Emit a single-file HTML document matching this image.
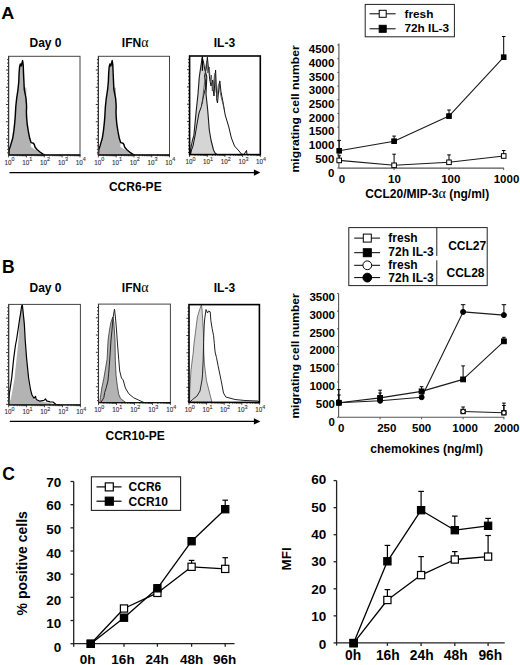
<!DOCTYPE html>
<html><head><meta charset="utf-8"><style>
html,body{margin:0;padding:0;background:#fff;}
svg{display:block;}
text{font-family:"Liberation Sans",sans-serif;}
</style></head><body>
<svg width="520" height="665" viewBox="0 0 520 665" font-family="Liberation Sans, sans-serif">
<rect width="520" height="665" fill="#fff"/>
<text x="0.00" y="0.00" font-size="16.4" font-weight="bold" text-anchor="start" fill="#000"  transform="translate(1.3,18.9) scale(1.1,1)">A</text>
<text x="2.00" y="272.60" font-size="17.5" font-weight="bold" text-anchor="start" fill="#000"  >B</text>
<text x="2.20" y="479.80" font-size="17.5" font-weight="bold" text-anchor="start" fill="#000"  >C</text>
<text x="45.50" y="46.60" font-size="12" font-weight="bold" text-anchor="middle" fill="#000"  >Day 0</text>
<text x="135.20" y="46.60" font-size="12" font-weight="bold" text-anchor="middle" fill="#000"  >IFN<tspan font-family="Liberation Serif" font-weight="normal" font-size="14" stroke-width="0.2">&#945;</tspan></text>
<text x="224.40" y="46.60" font-size="12" font-weight="bold" text-anchor="middle" fill="#000"  >IL-3</text>
<polygon points="8.80,155.00 9.60,149.60 11.00,145.40 13.00,138.30 14.10,131.20 14.90,124.20 15.50,117.10 15.90,110.00 16.10,106.50 17.00,98.10 18.30,89.70 19.10,81.30 19.40,72.80 20.30,64.00 21.20,66.00 22.60,61.00 23.00,72.80 23.60,81.30 24.20,87.00 26.40,88.00 26.40,94.00 25.80,98.10 26.50,106.50 26.30,117.10 27.00,124.20 28.00,131.20 29.50,138.30 30.80,142.60 30.80,146.80 34.00,149.00 38.70,151.00 44.40,155.00" fill="#b3b3b3" stroke="none" stroke-width="1" stroke-linejoin="round" />
<polyline points="8.80,155.00 9.20,149.60 10.60,145.40 12.70,138.30 13.80,131.20 14.60,124.20 15.20,117.10 15.60,110.00 15.80,106.50 16.70,98.10 18.00,89.70 18.80,81.30 19.10,72.80 19.60,67.00 20.30,64.00 21.20,66.00 22.60,60.60 23.20,65.00 23.50,72.80 23.90,81.30 24.30,89.70 26.00,98.10 26.60,106.50 26.40,112.00 26.60,117.10 27.20,124.20 28.30,131.20 29.70,138.30 31.10,142.60 33.50,143.30 34.30,144.50 35.00,147.00 37.00,149.50 40.00,152.00 43.00,154.20 45.00,155.00" fill="none" stroke="#000" stroke-width="1.45" stroke-linejoin="round" />
<line x1="7.10" y1="59.65" x2="8.60" y2="59.65" stroke="#222" stroke-width="0.9" />
<line x1="7.10" y1="63.10" x2="8.60" y2="63.10" stroke="#222" stroke-width="0.9" />
<line x1="7.10" y1="66.55" x2="8.60" y2="66.55" stroke="#222" stroke-width="0.9" />
<line x1="6.00" y1="70.00" x2="8.60" y2="70.00" stroke="#222" stroke-width="0.9" />
<line x1="7.10" y1="73.45" x2="8.60" y2="73.45" stroke="#222" stroke-width="0.9" />
<line x1="7.10" y1="76.90" x2="8.60" y2="76.90" stroke="#222" stroke-width="0.9" />
<line x1="7.10" y1="80.35" x2="8.60" y2="80.35" stroke="#222" stroke-width="0.9" />
<line x1="7.10" y1="83.80" x2="8.60" y2="83.80" stroke="#222" stroke-width="0.9" />
<line x1="6.00" y1="87.25" x2="8.60" y2="87.25" stroke="#222" stroke-width="0.9" />
<line x1="7.10" y1="90.70" x2="8.60" y2="90.70" stroke="#222" stroke-width="0.9" />
<line x1="7.10" y1="94.15" x2="8.60" y2="94.15" stroke="#222" stroke-width="0.9" />
<line x1="7.10" y1="97.60" x2="8.60" y2="97.60" stroke="#222" stroke-width="0.9" />
<line x1="7.10" y1="101.05" x2="8.60" y2="101.05" stroke="#222" stroke-width="0.9" />
<line x1="6.00" y1="104.50" x2="8.60" y2="104.50" stroke="#222" stroke-width="0.9" />
<line x1="7.10" y1="107.95" x2="8.60" y2="107.95" stroke="#222" stroke-width="0.9" />
<line x1="7.10" y1="111.40" x2="8.60" y2="111.40" stroke="#222" stroke-width="0.9" />
<line x1="7.10" y1="114.85" x2="8.60" y2="114.85" stroke="#222" stroke-width="0.9" />
<line x1="7.10" y1="118.30" x2="8.60" y2="118.30" stroke="#222" stroke-width="0.9" />
<line x1="6.00" y1="121.75" x2="8.60" y2="121.75" stroke="#222" stroke-width="0.9" />
<line x1="7.10" y1="125.20" x2="8.60" y2="125.20" stroke="#222" stroke-width="0.9" />
<line x1="7.10" y1="128.65" x2="8.60" y2="128.65" stroke="#222" stroke-width="0.9" />
<line x1="7.10" y1="132.10" x2="8.60" y2="132.10" stroke="#222" stroke-width="0.9" />
<line x1="7.10" y1="135.55" x2="8.60" y2="135.55" stroke="#222" stroke-width="0.9" />
<line x1="6.00" y1="139.00" x2="8.60" y2="139.00" stroke="#222" stroke-width="0.9" />
<line x1="7.10" y1="142.45" x2="8.60" y2="142.45" stroke="#222" stroke-width="0.9" />
<line x1="7.10" y1="145.90" x2="8.60" y2="145.90" stroke="#222" stroke-width="0.9" />
<line x1="7.10" y1="149.35" x2="8.60" y2="149.35" stroke="#222" stroke-width="0.9" />
<line x1="7.10" y1="152.80" x2="8.60" y2="152.80" stroke="#222" stroke-width="0.9" />
<line x1="8.60" y1="155.00" x2="8.60" y2="157.40" stroke="#222" stroke-width="0.8" />
<line x1="13.97" y1="155.00" x2="13.97" y2="156.30" stroke="#222" stroke-width="0.8" />
<line x1="17.12" y1="155.00" x2="17.12" y2="156.30" stroke="#222" stroke-width="0.8" />
<line x1="19.35" y1="155.00" x2="19.35" y2="156.30" stroke="#222" stroke-width="0.8" />
<line x1="21.08" y1="155.00" x2="21.08" y2="156.30" stroke="#222" stroke-width="0.8" />
<line x1="22.49" y1="155.00" x2="22.49" y2="156.30" stroke="#222" stroke-width="0.8" />
<line x1="23.69" y1="155.00" x2="23.69" y2="156.30" stroke="#222" stroke-width="0.8" />
<line x1="24.72" y1="155.00" x2="24.72" y2="156.30" stroke="#222" stroke-width="0.8" />
<line x1="25.63" y1="155.00" x2="25.63" y2="156.30" stroke="#222" stroke-width="0.8" />
<line x1="26.45" y1="155.00" x2="26.45" y2="157.40" stroke="#222" stroke-width="0.8" />
<line x1="31.82" y1="155.00" x2="31.82" y2="156.30" stroke="#222" stroke-width="0.8" />
<line x1="34.97" y1="155.00" x2="34.97" y2="156.30" stroke="#222" stroke-width="0.8" />
<line x1="37.20" y1="155.00" x2="37.20" y2="156.30" stroke="#222" stroke-width="0.8" />
<line x1="38.93" y1="155.00" x2="38.93" y2="156.30" stroke="#222" stroke-width="0.8" />
<line x1="40.34" y1="155.00" x2="40.34" y2="156.30" stroke="#222" stroke-width="0.8" />
<line x1="41.54" y1="155.00" x2="41.54" y2="156.30" stroke="#222" stroke-width="0.8" />
<line x1="42.57" y1="155.00" x2="42.57" y2="156.30" stroke="#222" stroke-width="0.8" />
<line x1="43.48" y1="155.00" x2="43.48" y2="156.30" stroke="#222" stroke-width="0.8" />
<line x1="44.30" y1="155.00" x2="44.30" y2="157.40" stroke="#222" stroke-width="0.8" />
<line x1="49.67" y1="155.00" x2="49.67" y2="156.30" stroke="#222" stroke-width="0.8" />
<line x1="52.82" y1="155.00" x2="52.82" y2="156.30" stroke="#222" stroke-width="0.8" />
<line x1="55.05" y1="155.00" x2="55.05" y2="156.30" stroke="#222" stroke-width="0.8" />
<line x1="56.78" y1="155.00" x2="56.78" y2="156.30" stroke="#222" stroke-width="0.8" />
<line x1="58.19" y1="155.00" x2="58.19" y2="156.30" stroke="#222" stroke-width="0.8" />
<line x1="59.39" y1="155.00" x2="59.39" y2="156.30" stroke="#222" stroke-width="0.8" />
<line x1="60.42" y1="155.00" x2="60.42" y2="156.30" stroke="#222" stroke-width="0.8" />
<line x1="61.33" y1="155.00" x2="61.33" y2="156.30" stroke="#222" stroke-width="0.8" />
<line x1="62.15" y1="155.00" x2="62.15" y2="157.40" stroke="#222" stroke-width="0.8" />
<line x1="67.52" y1="155.00" x2="67.52" y2="156.30" stroke="#222" stroke-width="0.8" />
<line x1="70.67" y1="155.00" x2="70.67" y2="156.30" stroke="#222" stroke-width="0.8" />
<line x1="72.90" y1="155.00" x2="72.90" y2="156.30" stroke="#222" stroke-width="0.8" />
<line x1="74.63" y1="155.00" x2="74.63" y2="156.30" stroke="#222" stroke-width="0.8" />
<line x1="76.04" y1="155.00" x2="76.04" y2="156.30" stroke="#222" stroke-width="0.8" />
<line x1="77.24" y1="155.00" x2="77.24" y2="156.30" stroke="#222" stroke-width="0.8" />
<line x1="78.27" y1="155.00" x2="78.27" y2="156.30" stroke="#222" stroke-width="0.8" />
<line x1="79.18" y1="155.00" x2="79.18" y2="156.30" stroke="#222" stroke-width="0.8" />
<line x1="80.00" y1="155.00" x2="80.00" y2="157.40" stroke="#222" stroke-width="0.8" />
<rect x="8.60" y="56.30" width="71.40" height="98.70" fill="none" stroke="#444" stroke-width="1.0"/>
<line x1="8.50" y1="155.00" x2="80.40" y2="155.00" stroke="#111" stroke-width="1.4" />
<line x1="8.60" y1="56.30" x2="8.60" y2="155.00" stroke="#333" stroke-width="1.1" />
<text x="4.40" y="164.50" font-size="6.3" fill="#333" stroke="#333" stroke-width="0.12">10<tspan dy="-3.1" font-size="5.4">0</tspan></text>
<text x="22.25" y="164.50" font-size="6.3" fill="#333" stroke="#333" stroke-width="0.12">10<tspan dy="-3.1" font-size="5.4">1</tspan></text>
<text x="40.10" y="164.50" font-size="6.3" fill="#333" stroke="#333" stroke-width="0.12">10<tspan dy="-3.1" font-size="5.4">2</tspan></text>
<text x="57.95" y="164.50" font-size="6.3" fill="#333" stroke="#333" stroke-width="0.12">10<tspan dy="-3.1" font-size="5.4">3</tspan></text>
<text x="75.80" y="164.50" font-size="6.3" fill="#333" stroke="#333" stroke-width="0.12">10<tspan dy="-3.1" font-size="5.4">4</tspan></text>
<polygon points="98.40,155.00 99.20,149.60 100.60,145.40 102.60,138.30 103.70,131.20 104.50,124.20 105.10,117.10 105.50,110.00 105.70,106.50 106.60,98.10 107.90,89.70 108.70,81.30 109.00,72.80 109.90,64.00 110.80,66.00 112.20,61.00 112.60,72.80 113.20,81.30 113.80,87.00 116.00,88.00 116.00,94.00 115.40,98.10 116.10,106.50 115.90,117.10 116.60,124.20 117.60,131.20 119.10,138.30 120.40,142.60 120.40,146.80 123.60,149.00 128.30,151.00 134.00,155.00" fill="#b3b3b3" stroke="none" stroke-width="1" stroke-linejoin="round" />
<polyline points="98.40,155.00 98.80,149.60 100.20,145.40 102.30,138.30 103.40,131.20 104.20,124.20 104.80,117.10 105.20,110.00 105.40,106.50 106.30,98.10 107.60,89.70 108.40,81.30 108.70,72.80 109.20,67.00 109.90,64.00 110.80,66.00 112.20,60.60 112.80,65.00 113.10,72.80 113.50,81.30 113.90,89.70 115.60,98.10 116.20,106.50 116.00,112.00 116.20,117.10 116.80,124.20 117.90,131.20 119.30,138.30 120.70,142.60 123.10,143.30 123.90,144.50 124.60,147.00 126.60,149.50 129.60,152.00 132.60,154.20 134.60,155.00" fill="none" stroke="#000" stroke-width="1.45" stroke-linejoin="round" />
<line x1="96.90" y1="59.65" x2="98.40" y2="59.65" stroke="#222" stroke-width="0.9" />
<line x1="96.90" y1="63.10" x2="98.40" y2="63.10" stroke="#222" stroke-width="0.9" />
<line x1="96.90" y1="66.55" x2="98.40" y2="66.55" stroke="#222" stroke-width="0.9" />
<line x1="95.80" y1="70.00" x2="98.40" y2="70.00" stroke="#222" stroke-width="0.9" />
<line x1="96.90" y1="73.45" x2="98.40" y2="73.45" stroke="#222" stroke-width="0.9" />
<line x1="96.90" y1="76.90" x2="98.40" y2="76.90" stroke="#222" stroke-width="0.9" />
<line x1="96.90" y1="80.35" x2="98.40" y2="80.35" stroke="#222" stroke-width="0.9" />
<line x1="96.90" y1="83.80" x2="98.40" y2="83.80" stroke="#222" stroke-width="0.9" />
<line x1="95.80" y1="87.25" x2="98.40" y2="87.25" stroke="#222" stroke-width="0.9" />
<line x1="96.90" y1="90.70" x2="98.40" y2="90.70" stroke="#222" stroke-width="0.9" />
<line x1="96.90" y1="94.15" x2="98.40" y2="94.15" stroke="#222" stroke-width="0.9" />
<line x1="96.90" y1="97.60" x2="98.40" y2="97.60" stroke="#222" stroke-width="0.9" />
<line x1="96.90" y1="101.05" x2="98.40" y2="101.05" stroke="#222" stroke-width="0.9" />
<line x1="95.80" y1="104.50" x2="98.40" y2="104.50" stroke="#222" stroke-width="0.9" />
<line x1="96.90" y1="107.95" x2="98.40" y2="107.95" stroke="#222" stroke-width="0.9" />
<line x1="96.90" y1="111.40" x2="98.40" y2="111.40" stroke="#222" stroke-width="0.9" />
<line x1="96.90" y1="114.85" x2="98.40" y2="114.85" stroke="#222" stroke-width="0.9" />
<line x1="96.90" y1="118.30" x2="98.40" y2="118.30" stroke="#222" stroke-width="0.9" />
<line x1="95.80" y1="121.75" x2="98.40" y2="121.75" stroke="#222" stroke-width="0.9" />
<line x1="96.90" y1="125.20" x2="98.40" y2="125.20" stroke="#222" stroke-width="0.9" />
<line x1="96.90" y1="128.65" x2="98.40" y2="128.65" stroke="#222" stroke-width="0.9" />
<line x1="96.90" y1="132.10" x2="98.40" y2="132.10" stroke="#222" stroke-width="0.9" />
<line x1="96.90" y1="135.55" x2="98.40" y2="135.55" stroke="#222" stroke-width="0.9" />
<line x1="95.80" y1="139.00" x2="98.40" y2="139.00" stroke="#222" stroke-width="0.9" />
<line x1="96.90" y1="142.45" x2="98.40" y2="142.45" stroke="#222" stroke-width="0.9" />
<line x1="96.90" y1="145.90" x2="98.40" y2="145.90" stroke="#222" stroke-width="0.9" />
<line x1="96.90" y1="149.35" x2="98.40" y2="149.35" stroke="#222" stroke-width="0.9" />
<line x1="96.90" y1="152.80" x2="98.40" y2="152.80" stroke="#222" stroke-width="0.9" />
<line x1="98.40" y1="155.00" x2="98.40" y2="157.40" stroke="#222" stroke-width="0.8" />
<line x1="103.75" y1="155.00" x2="103.75" y2="156.30" stroke="#222" stroke-width="0.8" />
<line x1="106.88" y1="155.00" x2="106.88" y2="156.30" stroke="#222" stroke-width="0.8" />
<line x1="109.10" y1="155.00" x2="109.10" y2="156.30" stroke="#222" stroke-width="0.8" />
<line x1="110.82" y1="155.00" x2="110.82" y2="156.30" stroke="#222" stroke-width="0.8" />
<line x1="112.23" y1="155.00" x2="112.23" y2="156.30" stroke="#222" stroke-width="0.8" />
<line x1="113.42" y1="155.00" x2="113.42" y2="156.30" stroke="#222" stroke-width="0.8" />
<line x1="114.45" y1="155.00" x2="114.45" y2="156.30" stroke="#222" stroke-width="0.8" />
<line x1="115.36" y1="155.00" x2="115.36" y2="156.30" stroke="#222" stroke-width="0.8" />
<line x1="116.18" y1="155.00" x2="116.18" y2="157.40" stroke="#222" stroke-width="0.8" />
<line x1="121.53" y1="155.00" x2="121.53" y2="156.30" stroke="#222" stroke-width="0.8" />
<line x1="124.66" y1="155.00" x2="124.66" y2="156.30" stroke="#222" stroke-width="0.8" />
<line x1="126.88" y1="155.00" x2="126.88" y2="156.30" stroke="#222" stroke-width="0.8" />
<line x1="128.60" y1="155.00" x2="128.60" y2="156.30" stroke="#222" stroke-width="0.8" />
<line x1="130.01" y1="155.00" x2="130.01" y2="156.30" stroke="#222" stroke-width="0.8" />
<line x1="131.20" y1="155.00" x2="131.20" y2="156.30" stroke="#222" stroke-width="0.8" />
<line x1="132.23" y1="155.00" x2="132.23" y2="156.30" stroke="#222" stroke-width="0.8" />
<line x1="133.14" y1="155.00" x2="133.14" y2="156.30" stroke="#222" stroke-width="0.8" />
<line x1="133.95" y1="155.00" x2="133.95" y2="157.40" stroke="#222" stroke-width="0.8" />
<line x1="139.30" y1="155.00" x2="139.30" y2="156.30" stroke="#222" stroke-width="0.8" />
<line x1="142.43" y1="155.00" x2="142.43" y2="156.30" stroke="#222" stroke-width="0.8" />
<line x1="144.65" y1="155.00" x2="144.65" y2="156.30" stroke="#222" stroke-width="0.8" />
<line x1="146.37" y1="155.00" x2="146.37" y2="156.30" stroke="#222" stroke-width="0.8" />
<line x1="147.78" y1="155.00" x2="147.78" y2="156.30" stroke="#222" stroke-width="0.8" />
<line x1="148.97" y1="155.00" x2="148.97" y2="156.30" stroke="#222" stroke-width="0.8" />
<line x1="150.00" y1="155.00" x2="150.00" y2="156.30" stroke="#222" stroke-width="0.8" />
<line x1="150.91" y1="155.00" x2="150.91" y2="156.30" stroke="#222" stroke-width="0.8" />
<line x1="151.72" y1="155.00" x2="151.72" y2="157.40" stroke="#222" stroke-width="0.8" />
<line x1="157.08" y1="155.00" x2="157.08" y2="156.30" stroke="#222" stroke-width="0.8" />
<line x1="160.21" y1="155.00" x2="160.21" y2="156.30" stroke="#222" stroke-width="0.8" />
<line x1="162.43" y1="155.00" x2="162.43" y2="156.30" stroke="#222" stroke-width="0.8" />
<line x1="164.15" y1="155.00" x2="164.15" y2="156.30" stroke="#222" stroke-width="0.8" />
<line x1="165.56" y1="155.00" x2="165.56" y2="156.30" stroke="#222" stroke-width="0.8" />
<line x1="166.75" y1="155.00" x2="166.75" y2="156.30" stroke="#222" stroke-width="0.8" />
<line x1="167.78" y1="155.00" x2="167.78" y2="156.30" stroke="#222" stroke-width="0.8" />
<line x1="168.69" y1="155.00" x2="168.69" y2="156.30" stroke="#222" stroke-width="0.8" />
<line x1="169.50" y1="155.00" x2="169.50" y2="157.40" stroke="#222" stroke-width="0.8" />
<rect x="98.40" y="56.30" width="71.10" height="98.70" fill="none" stroke="#444" stroke-width="1.0"/>
<line x1="98.30" y1="155.00" x2="169.90" y2="155.00" stroke="#111" stroke-width="1.4" />
<line x1="98.40" y1="56.30" x2="98.40" y2="155.00" stroke="#333" stroke-width="1.1" />
<text x="94.20" y="164.50" font-size="6.3" fill="#333" stroke="#333" stroke-width="0.12">10<tspan dy="-3.1" font-size="5.4">0</tspan></text>
<text x="111.98" y="164.50" font-size="6.3" fill="#333" stroke="#333" stroke-width="0.12">10<tspan dy="-3.1" font-size="5.4">1</tspan></text>
<text x="129.75" y="164.50" font-size="6.3" fill="#333" stroke="#333" stroke-width="0.12">10<tspan dy="-3.1" font-size="5.4">2</tspan></text>
<text x="147.53" y="164.50" font-size="6.3" fill="#333" stroke="#333" stroke-width="0.12">10<tspan dy="-3.1" font-size="5.4">3</tspan></text>
<text x="165.30" y="164.50" font-size="6.3" fill="#333" stroke="#333" stroke-width="0.12">10<tspan dy="-3.1" font-size="5.4">4</tspan></text>
<polygon points="190.20,154.50 190.70,149.00 192.50,140.00 193.90,135.30 195.20,121.60 196.30,110.00 198.00,94.00 199.30,77.00 200.50,68.60 202.20,57.70 203.50,62.00 204.50,68.00 206.80,77.00 206.00,94.00 207.70,110.00 208.50,120.00 209.30,130.00 211.00,140.00 213.50,150.00 215.00,153.00 217.00,154.50" fill="#d5d5d5" stroke="#1a1a1a" stroke-width="1.1" stroke-linejoin="round" />
<line x1="202.40" y1="56.50" x2="202.40" y2="70.80" stroke="#000" stroke-width="1.3" />
<polyline points="190.60,154.50 191.50,150.00 193.00,146.00 195.00,136.00 197.00,124.00 199.00,113.00 201.40,106.50 202.60,99.80 204.50,92.00 205.60,88.00 205.60,81.30 204.50,76.00 206.00,70.00 207.40,57.20 208.20,66.00 208.90,70.80 209.70,79.20 211.00,86.00 212.70,80.10 213.20,90.00 214.00,96.00 214.80,82.00 215.60,70.00 216.20,85.00 216.80,100.00 217.50,103.00 218.50,92.00 219.80,80.90 221.00,92.00 222.80,101.10 225.20,115.00 228.80,127.00 231.40,138.00 234.50,146.00 239.00,151.00 241.40,154.00 244.00,154.50 246.50,150.50 247.00,154.50" fill="none" stroke="#111" stroke-width="1.0" stroke-linejoin="round" />
<polyline points="202.50,104.00 203.40,92.00 204.40,84.00 205.20,75.00 206.00,66.00 206.80,61.00 207.80,73.00 209.30,67.00 210.30,81.00 211.40,75.00 212.30,91.00 213.40,84.00 214.40,76.00 215.10,73.00 216.00,91.00 217.10,97.00 218.20,86.00 219.30,83.00 220.10,92.00 221.40,98.00 223.00,104.00 224.40,110.00" fill="none" stroke="#444" stroke-width="0.8" stroke-linejoin="round" />
<line x1="188.10" y1="59.35" x2="189.60" y2="59.35" stroke="#222" stroke-width="0.9" />
<line x1="188.10" y1="62.80" x2="189.60" y2="62.80" stroke="#222" stroke-width="0.9" />
<line x1="188.10" y1="66.25" x2="189.60" y2="66.25" stroke="#222" stroke-width="0.9" />
<line x1="187.00" y1="69.70" x2="189.60" y2="69.70" stroke="#222" stroke-width="0.9" />
<line x1="188.10" y1="73.15" x2="189.60" y2="73.15" stroke="#222" stroke-width="0.9" />
<line x1="188.10" y1="76.60" x2="189.60" y2="76.60" stroke="#222" stroke-width="0.9" />
<line x1="188.10" y1="80.05" x2="189.60" y2="80.05" stroke="#222" stroke-width="0.9" />
<line x1="188.10" y1="83.50" x2="189.60" y2="83.50" stroke="#222" stroke-width="0.9" />
<line x1="187.00" y1="86.95" x2="189.60" y2="86.95" stroke="#222" stroke-width="0.9" />
<line x1="188.10" y1="90.40" x2="189.60" y2="90.40" stroke="#222" stroke-width="0.9" />
<line x1="188.10" y1="93.85" x2="189.60" y2="93.85" stroke="#222" stroke-width="0.9" />
<line x1="188.10" y1="97.30" x2="189.60" y2="97.30" stroke="#222" stroke-width="0.9" />
<line x1="188.10" y1="100.75" x2="189.60" y2="100.75" stroke="#222" stroke-width="0.9" />
<line x1="187.00" y1="104.20" x2="189.60" y2="104.20" stroke="#222" stroke-width="0.9" />
<line x1="188.10" y1="107.65" x2="189.60" y2="107.65" stroke="#222" stroke-width="0.9" />
<line x1="188.10" y1="111.10" x2="189.60" y2="111.10" stroke="#222" stroke-width="0.9" />
<line x1="188.10" y1="114.55" x2="189.60" y2="114.55" stroke="#222" stroke-width="0.9" />
<line x1="188.10" y1="118.00" x2="189.60" y2="118.00" stroke="#222" stroke-width="0.9" />
<line x1="187.00" y1="121.45" x2="189.60" y2="121.45" stroke="#222" stroke-width="0.9" />
<line x1="188.10" y1="124.90" x2="189.60" y2="124.90" stroke="#222" stroke-width="0.9" />
<line x1="188.10" y1="128.35" x2="189.60" y2="128.35" stroke="#222" stroke-width="0.9" />
<line x1="188.10" y1="131.80" x2="189.60" y2="131.80" stroke="#222" stroke-width="0.9" />
<line x1="188.10" y1="135.25" x2="189.60" y2="135.25" stroke="#222" stroke-width="0.9" />
<line x1="187.00" y1="138.70" x2="189.60" y2="138.70" stroke="#222" stroke-width="0.9" />
<line x1="188.10" y1="142.15" x2="189.60" y2="142.15" stroke="#222" stroke-width="0.9" />
<line x1="188.10" y1="145.60" x2="189.60" y2="145.60" stroke="#222" stroke-width="0.9" />
<line x1="188.10" y1="149.05" x2="189.60" y2="149.05" stroke="#222" stroke-width="0.9" />
<line x1="188.10" y1="152.50" x2="189.60" y2="152.50" stroke="#222" stroke-width="0.9" />
<line x1="189.60" y1="154.60" x2="189.60" y2="157.00" stroke="#222" stroke-width="0.8" />
<line x1="194.92" y1="154.60" x2="194.92" y2="155.90" stroke="#222" stroke-width="0.8" />
<line x1="198.03" y1="154.60" x2="198.03" y2="155.90" stroke="#222" stroke-width="0.8" />
<line x1="200.24" y1="154.60" x2="200.24" y2="155.90" stroke="#222" stroke-width="0.8" />
<line x1="201.95" y1="154.60" x2="201.95" y2="155.90" stroke="#222" stroke-width="0.8" />
<line x1="203.35" y1="154.60" x2="203.35" y2="155.90" stroke="#222" stroke-width="0.8" />
<line x1="204.54" y1="154.60" x2="204.54" y2="155.90" stroke="#222" stroke-width="0.8" />
<line x1="205.56" y1="154.60" x2="205.56" y2="155.90" stroke="#222" stroke-width="0.8" />
<line x1="206.47" y1="154.60" x2="206.47" y2="155.90" stroke="#222" stroke-width="0.8" />
<line x1="207.28" y1="154.60" x2="207.28" y2="157.00" stroke="#222" stroke-width="0.8" />
<line x1="212.60" y1="154.60" x2="212.60" y2="155.90" stroke="#222" stroke-width="0.8" />
<line x1="215.71" y1="154.60" x2="215.71" y2="155.90" stroke="#222" stroke-width="0.8" />
<line x1="217.92" y1="154.60" x2="217.92" y2="155.90" stroke="#222" stroke-width="0.8" />
<line x1="219.63" y1="154.60" x2="219.63" y2="155.90" stroke="#222" stroke-width="0.8" />
<line x1="221.03" y1="154.60" x2="221.03" y2="155.90" stroke="#222" stroke-width="0.8" />
<line x1="222.21" y1="154.60" x2="222.21" y2="155.90" stroke="#222" stroke-width="0.8" />
<line x1="223.24" y1="154.60" x2="223.24" y2="155.90" stroke="#222" stroke-width="0.8" />
<line x1="224.14" y1="154.60" x2="224.14" y2="155.90" stroke="#222" stroke-width="0.8" />
<line x1="224.95" y1="154.60" x2="224.95" y2="157.00" stroke="#222" stroke-width="0.8" />
<line x1="230.27" y1="154.60" x2="230.27" y2="155.90" stroke="#222" stroke-width="0.8" />
<line x1="233.38" y1="154.60" x2="233.38" y2="155.90" stroke="#222" stroke-width="0.8" />
<line x1="235.59" y1="154.60" x2="235.59" y2="155.90" stroke="#222" stroke-width="0.8" />
<line x1="237.30" y1="154.60" x2="237.30" y2="155.90" stroke="#222" stroke-width="0.8" />
<line x1="238.70" y1="154.60" x2="238.70" y2="155.90" stroke="#222" stroke-width="0.8" />
<line x1="239.89" y1="154.60" x2="239.89" y2="155.90" stroke="#222" stroke-width="0.8" />
<line x1="240.91" y1="154.60" x2="240.91" y2="155.90" stroke="#222" stroke-width="0.8" />
<line x1="241.82" y1="154.60" x2="241.82" y2="155.90" stroke="#222" stroke-width="0.8" />
<line x1="242.62" y1="154.60" x2="242.62" y2="157.00" stroke="#222" stroke-width="0.8" />
<line x1="247.95" y1="154.60" x2="247.95" y2="155.90" stroke="#222" stroke-width="0.8" />
<line x1="251.06" y1="154.60" x2="251.06" y2="155.90" stroke="#222" stroke-width="0.8" />
<line x1="253.27" y1="154.60" x2="253.27" y2="155.90" stroke="#222" stroke-width="0.8" />
<line x1="254.98" y1="154.60" x2="254.98" y2="155.90" stroke="#222" stroke-width="0.8" />
<line x1="256.38" y1="154.60" x2="256.38" y2="155.90" stroke="#222" stroke-width="0.8" />
<line x1="257.56" y1="154.60" x2="257.56" y2="155.90" stroke="#222" stroke-width="0.8" />
<line x1="258.59" y1="154.60" x2="258.59" y2="155.90" stroke="#222" stroke-width="0.8" />
<line x1="259.49" y1="154.60" x2="259.49" y2="155.90" stroke="#222" stroke-width="0.8" />
<line x1="260.30" y1="154.60" x2="260.30" y2="157.00" stroke="#222" stroke-width="0.8" />
<rect x="189.60" y="56.00" width="70.70" height="98.60" fill="none" stroke="#000" stroke-width="1.6"/>
<text x="185.40" y="164.10" font-size="6.3" fill="#333" stroke="#333" stroke-width="0.12">10<tspan dy="-3.1" font-size="5.4">0</tspan></text>
<text x="203.08" y="164.10" font-size="6.3" fill="#333" stroke="#333" stroke-width="0.12">10<tspan dy="-3.1" font-size="5.4">1</tspan></text>
<text x="220.75" y="164.10" font-size="6.3" fill="#333" stroke="#333" stroke-width="0.12">10<tspan dy="-3.1" font-size="5.4">2</tspan></text>
<text x="238.43" y="164.10" font-size="6.3" fill="#333" stroke="#333" stroke-width="0.12">10<tspan dy="-3.1" font-size="5.4">3</tspan></text>
<text x="256.10" y="164.10" font-size="6.3" fill="#333" stroke="#333" stroke-width="0.12">10<tspan dy="-3.1" font-size="5.4">4</tspan></text>
<line x1="9.50" y1="172.60" x2="255.40" y2="172.60" stroke="#000" stroke-width="1.3" />
<polygon points="253.90,169.40 260.40,172.60 253.90,175.80" fill="#000" stroke="none" stroke-width="1" stroke-linejoin="round" />
<text x="135.30" y="190.50" font-size="12" font-weight="bold" text-anchor="middle" fill="#000"  >CCR6-PE</text>
<text x="45.50" y="291.80" font-size="12" font-weight="bold" text-anchor="middle" fill="#000"  >Day 0</text>
<text x="135.20" y="291.80" font-size="12" font-weight="bold" text-anchor="middle" fill="#000"  >IFN<tspan font-family="Liberation Serif" font-weight="normal" font-size="14" stroke-width="0.2">&#945;</tspan></text>
<text x="224.40" y="291.80" font-size="12" font-weight="bold" text-anchor="middle" fill="#000"  >IL-3</text>
<polygon points="8.80,404.90 9.50,402.00 10.70,399.40 12.50,390.00 14.60,377.90 16.60,358.40 18.60,338.80 19.50,319.30 20.50,312.00 21.50,308.00 22.30,304.50 23.00,310.00 24.40,319.30 25.00,338.80 26.40,358.40 28.30,377.90 30.30,391.60 34.20,399.40 40.00,401.50 50.00,403.00 56.00,404.90" fill="#b3b3b3" stroke="none" stroke-width="1" stroke-linejoin="round" />
<polyline points="8.80,404.90 9.40,393.50 11.70,377.90 13.70,358.40 15.50,345.00 16.50,340.00 18.00,330.00 19.50,320.00 20.80,312.00 21.50,307.00 22.30,304.50 22.80,309.00 23.50,316.00 24.40,325.00 25.20,340.00 26.60,358.40 28.60,378.00 30.60,390.00 32.00,395.00 34.00,398.30 35.50,396.30 36.20,399.50 40.00,401.20 44.00,400.30 45.50,398.80 46.50,400.80 50.00,401.80 53.00,402.00 56.00,404.50 60.00,404.90" fill="none" stroke="#000" stroke-width="1.2" stroke-linejoin="round" />
<line x1="7.15" y1="307.75" x2="8.65" y2="307.75" stroke="#222" stroke-width="0.9" />
<line x1="7.15" y1="311.20" x2="8.65" y2="311.20" stroke="#222" stroke-width="0.9" />
<line x1="7.15" y1="314.65" x2="8.65" y2="314.65" stroke="#222" stroke-width="0.9" />
<line x1="6.05" y1="318.10" x2="8.65" y2="318.10" stroke="#222" stroke-width="0.9" />
<line x1="7.15" y1="321.55" x2="8.65" y2="321.55" stroke="#222" stroke-width="0.9" />
<line x1="7.15" y1="325.00" x2="8.65" y2="325.00" stroke="#222" stroke-width="0.9" />
<line x1="7.15" y1="328.45" x2="8.65" y2="328.45" stroke="#222" stroke-width="0.9" />
<line x1="7.15" y1="331.90" x2="8.65" y2="331.90" stroke="#222" stroke-width="0.9" />
<line x1="6.05" y1="335.35" x2="8.65" y2="335.35" stroke="#222" stroke-width="0.9" />
<line x1="7.15" y1="338.80" x2="8.65" y2="338.80" stroke="#222" stroke-width="0.9" />
<line x1="7.15" y1="342.25" x2="8.65" y2="342.25" stroke="#222" stroke-width="0.9" />
<line x1="7.15" y1="345.70" x2="8.65" y2="345.70" stroke="#222" stroke-width="0.9" />
<line x1="7.15" y1="349.15" x2="8.65" y2="349.15" stroke="#222" stroke-width="0.9" />
<line x1="6.05" y1="352.60" x2="8.65" y2="352.60" stroke="#222" stroke-width="0.9" />
<line x1="7.15" y1="356.05" x2="8.65" y2="356.05" stroke="#222" stroke-width="0.9" />
<line x1="7.15" y1="359.50" x2="8.65" y2="359.50" stroke="#222" stroke-width="0.9" />
<line x1="7.15" y1="362.95" x2="8.65" y2="362.95" stroke="#222" stroke-width="0.9" />
<line x1="7.15" y1="366.40" x2="8.65" y2="366.40" stroke="#222" stroke-width="0.9" />
<line x1="6.05" y1="369.85" x2="8.65" y2="369.85" stroke="#222" stroke-width="0.9" />
<line x1="7.15" y1="373.30" x2="8.65" y2="373.30" stroke="#222" stroke-width="0.9" />
<line x1="7.15" y1="376.75" x2="8.65" y2="376.75" stroke="#222" stroke-width="0.9" />
<line x1="7.15" y1="380.20" x2="8.65" y2="380.20" stroke="#222" stroke-width="0.9" />
<line x1="7.15" y1="383.65" x2="8.65" y2="383.65" stroke="#222" stroke-width="0.9" />
<line x1="6.05" y1="387.10" x2="8.65" y2="387.10" stroke="#222" stroke-width="0.9" />
<line x1="7.15" y1="390.55" x2="8.65" y2="390.55" stroke="#222" stroke-width="0.9" />
<line x1="7.15" y1="394.00" x2="8.65" y2="394.00" stroke="#222" stroke-width="0.9" />
<line x1="7.15" y1="397.45" x2="8.65" y2="397.45" stroke="#222" stroke-width="0.9" />
<line x1="7.15" y1="400.90" x2="8.65" y2="400.90" stroke="#222" stroke-width="0.9" />
<line x1="6.05" y1="404.35" x2="8.65" y2="404.35" stroke="#222" stroke-width="0.9" />
<line x1="8.65" y1="404.90" x2="8.65" y2="407.30" stroke="#222" stroke-width="0.8" />
<line x1="14.05" y1="404.90" x2="14.05" y2="406.20" stroke="#222" stroke-width="0.8" />
<line x1="17.21" y1="404.90" x2="17.21" y2="406.20" stroke="#222" stroke-width="0.8" />
<line x1="19.45" y1="404.90" x2="19.45" y2="406.20" stroke="#222" stroke-width="0.8" />
<line x1="21.19" y1="404.90" x2="21.19" y2="406.20" stroke="#222" stroke-width="0.8" />
<line x1="22.61" y1="404.90" x2="22.61" y2="406.20" stroke="#222" stroke-width="0.8" />
<line x1="23.81" y1="404.90" x2="23.81" y2="406.20" stroke="#222" stroke-width="0.8" />
<line x1="24.85" y1="404.90" x2="24.85" y2="406.20" stroke="#222" stroke-width="0.8" />
<line x1="25.77" y1="404.90" x2="25.77" y2="406.20" stroke="#222" stroke-width="0.8" />
<line x1="26.59" y1="404.90" x2="26.59" y2="407.30" stroke="#222" stroke-width="0.8" />
<line x1="31.99" y1="404.90" x2="31.99" y2="406.20" stroke="#222" stroke-width="0.8" />
<line x1="35.15" y1="404.90" x2="35.15" y2="406.20" stroke="#222" stroke-width="0.8" />
<line x1="37.39" y1="404.90" x2="37.39" y2="406.20" stroke="#222" stroke-width="0.8" />
<line x1="39.13" y1="404.90" x2="39.13" y2="406.20" stroke="#222" stroke-width="0.8" />
<line x1="40.55" y1="404.90" x2="40.55" y2="406.20" stroke="#222" stroke-width="0.8" />
<line x1="41.75" y1="404.90" x2="41.75" y2="406.20" stroke="#222" stroke-width="0.8" />
<line x1="42.79" y1="404.90" x2="42.79" y2="406.20" stroke="#222" stroke-width="0.8" />
<line x1="43.70" y1="404.90" x2="43.70" y2="406.20" stroke="#222" stroke-width="0.8" />
<line x1="44.52" y1="404.90" x2="44.52" y2="407.30" stroke="#222" stroke-width="0.8" />
<line x1="49.92" y1="404.90" x2="49.92" y2="406.20" stroke="#222" stroke-width="0.8" />
<line x1="53.08" y1="404.90" x2="53.08" y2="406.20" stroke="#222" stroke-width="0.8" />
<line x1="55.32" y1="404.90" x2="55.32" y2="406.20" stroke="#222" stroke-width="0.8" />
<line x1="57.06" y1="404.90" x2="57.06" y2="406.20" stroke="#222" stroke-width="0.8" />
<line x1="58.48" y1="404.90" x2="58.48" y2="406.20" stroke="#222" stroke-width="0.8" />
<line x1="59.68" y1="404.90" x2="59.68" y2="406.20" stroke="#222" stroke-width="0.8" />
<line x1="60.72" y1="404.90" x2="60.72" y2="406.20" stroke="#222" stroke-width="0.8" />
<line x1="61.64" y1="404.90" x2="61.64" y2="406.20" stroke="#222" stroke-width="0.8" />
<line x1="62.46" y1="404.90" x2="62.46" y2="407.30" stroke="#222" stroke-width="0.8" />
<line x1="67.86" y1="404.90" x2="67.86" y2="406.20" stroke="#222" stroke-width="0.8" />
<line x1="71.02" y1="404.90" x2="71.02" y2="406.20" stroke="#222" stroke-width="0.8" />
<line x1="73.26" y1="404.90" x2="73.26" y2="406.20" stroke="#222" stroke-width="0.8" />
<line x1="75.00" y1="404.90" x2="75.00" y2="406.20" stroke="#222" stroke-width="0.8" />
<line x1="76.42" y1="404.90" x2="76.42" y2="406.20" stroke="#222" stroke-width="0.8" />
<line x1="77.62" y1="404.90" x2="77.62" y2="406.20" stroke="#222" stroke-width="0.8" />
<line x1="78.66" y1="404.90" x2="78.66" y2="406.20" stroke="#222" stroke-width="0.8" />
<line x1="79.58" y1="404.90" x2="79.58" y2="406.20" stroke="#222" stroke-width="0.8" />
<line x1="80.40" y1="404.90" x2="80.40" y2="407.30" stroke="#222" stroke-width="0.8" />
<rect x="8.65" y="304.40" width="71.75" height="100.50" fill="none" stroke="#444" stroke-width="1.0"/>
<line x1="8.55" y1="404.90" x2="80.80" y2="404.90" stroke="#111" stroke-width="1.4" />
<line x1="8.65" y1="304.40" x2="8.65" y2="404.90" stroke="#333" stroke-width="1.1" />
<text x="4.45" y="414.40" font-size="6.3" fill="#333" stroke="#333" stroke-width="0.12">10<tspan dy="-3.1" font-size="5.4">0</tspan></text>
<text x="22.39" y="414.40" font-size="6.3" fill="#333" stroke="#333" stroke-width="0.12">10<tspan dy="-3.1" font-size="5.4">1</tspan></text>
<text x="40.32" y="414.40" font-size="6.3" fill="#333" stroke="#333" stroke-width="0.12">10<tspan dy="-3.1" font-size="5.4">2</tspan></text>
<text x="58.26" y="414.40" font-size="6.3" fill="#333" stroke="#333" stroke-width="0.12">10<tspan dy="-3.1" font-size="5.4">3</tspan></text>
<text x="76.20" y="414.40" font-size="6.3" fill="#333" stroke="#333" stroke-width="0.12">10<tspan dy="-3.1" font-size="5.4">4</tspan></text>
<polygon points="99.80,402.60 100.40,397.70 101.80,388.00 103.80,378.50 107.10,359.20 108.10,340.00 109.50,330.00 111.00,322.00 112.80,317.00 113.80,322.00 115.00,340.00 115.30,360.00 116.10,375.80 117.40,386.30 118.70,394.20 120.50,398.50 123.00,400.50 125.90,402.60" fill="#b3b3b3" stroke="#333" stroke-width="0.8" stroke-linejoin="round" />
<polyline points="100.90,402.60 103.80,397.70 104.70,392.60 106.30,387.40 107.90,381.00 108.70,373.20 109.70,360.00 111.00,340.00 112.00,330.00 113.00,318.00 114.50,309.10 115.50,318.00 116.50,330.00 117.20,340.00 118.70,359.20 119.70,371.00 121.60,378.50 123.00,379.50 125.40,388.00 128.80,393.80 133.60,397.70 138.40,400.00 144.20,402.60" fill="none" stroke="#222" stroke-width="1.0" stroke-linejoin="round" />
<line x1="97.00" y1="307.45" x2="98.50" y2="307.45" stroke="#222" stroke-width="0.9" />
<line x1="97.00" y1="310.90" x2="98.50" y2="310.90" stroke="#222" stroke-width="0.9" />
<line x1="97.00" y1="314.35" x2="98.50" y2="314.35" stroke="#222" stroke-width="0.9" />
<line x1="95.90" y1="317.80" x2="98.50" y2="317.80" stroke="#222" stroke-width="0.9" />
<line x1="97.00" y1="321.25" x2="98.50" y2="321.25" stroke="#222" stroke-width="0.9" />
<line x1="97.00" y1="324.70" x2="98.50" y2="324.70" stroke="#222" stroke-width="0.9" />
<line x1="97.00" y1="328.15" x2="98.50" y2="328.15" stroke="#222" stroke-width="0.9" />
<line x1="97.00" y1="331.60" x2="98.50" y2="331.60" stroke="#222" stroke-width="0.9" />
<line x1="95.90" y1="335.05" x2="98.50" y2="335.05" stroke="#222" stroke-width="0.9" />
<line x1="97.00" y1="338.50" x2="98.50" y2="338.50" stroke="#222" stroke-width="0.9" />
<line x1="97.00" y1="341.95" x2="98.50" y2="341.95" stroke="#222" stroke-width="0.9" />
<line x1="97.00" y1="345.40" x2="98.50" y2="345.40" stroke="#222" stroke-width="0.9" />
<line x1="97.00" y1="348.85" x2="98.50" y2="348.85" stroke="#222" stroke-width="0.9" />
<line x1="95.90" y1="352.30" x2="98.50" y2="352.30" stroke="#222" stroke-width="0.9" />
<line x1="97.00" y1="355.75" x2="98.50" y2="355.75" stroke="#222" stroke-width="0.9" />
<line x1="97.00" y1="359.20" x2="98.50" y2="359.20" stroke="#222" stroke-width="0.9" />
<line x1="97.00" y1="362.65" x2="98.50" y2="362.65" stroke="#222" stroke-width="0.9" />
<line x1="97.00" y1="366.10" x2="98.50" y2="366.10" stroke="#222" stroke-width="0.9" />
<line x1="95.90" y1="369.55" x2="98.50" y2="369.55" stroke="#222" stroke-width="0.9" />
<line x1="97.00" y1="373.00" x2="98.50" y2="373.00" stroke="#222" stroke-width="0.9" />
<line x1="97.00" y1="376.45" x2="98.50" y2="376.45" stroke="#222" stroke-width="0.9" />
<line x1="97.00" y1="379.90" x2="98.50" y2="379.90" stroke="#222" stroke-width="0.9" />
<line x1="97.00" y1="383.35" x2="98.50" y2="383.35" stroke="#222" stroke-width="0.9" />
<line x1="95.90" y1="386.80" x2="98.50" y2="386.80" stroke="#222" stroke-width="0.9" />
<line x1="97.00" y1="390.25" x2="98.50" y2="390.25" stroke="#222" stroke-width="0.9" />
<line x1="97.00" y1="393.70" x2="98.50" y2="393.70" stroke="#222" stroke-width="0.9" />
<line x1="97.00" y1="397.15" x2="98.50" y2="397.15" stroke="#222" stroke-width="0.9" />
<line x1="97.00" y1="400.60" x2="98.50" y2="400.60" stroke="#222" stroke-width="0.9" />
<line x1="98.50" y1="402.60" x2="98.50" y2="405.00" stroke="#222" stroke-width="0.8" />
<line x1="103.91" y1="402.60" x2="103.91" y2="403.90" stroke="#222" stroke-width="0.8" />
<line x1="107.08" y1="402.60" x2="107.08" y2="403.90" stroke="#222" stroke-width="0.8" />
<line x1="109.32" y1="402.60" x2="109.32" y2="403.90" stroke="#222" stroke-width="0.8" />
<line x1="111.06" y1="402.60" x2="111.06" y2="403.90" stroke="#222" stroke-width="0.8" />
<line x1="112.49" y1="402.60" x2="112.49" y2="403.90" stroke="#222" stroke-width="0.8" />
<line x1="113.69" y1="402.60" x2="113.69" y2="403.90" stroke="#222" stroke-width="0.8" />
<line x1="114.73" y1="402.60" x2="114.73" y2="403.90" stroke="#222" stroke-width="0.8" />
<line x1="115.65" y1="402.60" x2="115.65" y2="403.90" stroke="#222" stroke-width="0.8" />
<line x1="116.47" y1="402.60" x2="116.47" y2="405.00" stroke="#222" stroke-width="0.8" />
<line x1="121.89" y1="402.60" x2="121.89" y2="403.90" stroke="#222" stroke-width="0.8" />
<line x1="125.05" y1="402.60" x2="125.05" y2="403.90" stroke="#222" stroke-width="0.8" />
<line x1="127.30" y1="402.60" x2="127.30" y2="403.90" stroke="#222" stroke-width="0.8" />
<line x1="129.04" y1="402.60" x2="129.04" y2="403.90" stroke="#222" stroke-width="0.8" />
<line x1="130.46" y1="402.60" x2="130.46" y2="403.90" stroke="#222" stroke-width="0.8" />
<line x1="131.67" y1="402.60" x2="131.67" y2="403.90" stroke="#222" stroke-width="0.8" />
<line x1="132.71" y1="402.60" x2="132.71" y2="403.90" stroke="#222" stroke-width="0.8" />
<line x1="133.63" y1="402.60" x2="133.63" y2="403.90" stroke="#222" stroke-width="0.8" />
<line x1="134.45" y1="402.60" x2="134.45" y2="405.00" stroke="#222" stroke-width="0.8" />
<line x1="139.86" y1="402.60" x2="139.86" y2="403.90" stroke="#222" stroke-width="0.8" />
<line x1="143.03" y1="402.60" x2="143.03" y2="403.90" stroke="#222" stroke-width="0.8" />
<line x1="145.27" y1="402.60" x2="145.27" y2="403.90" stroke="#222" stroke-width="0.8" />
<line x1="147.01" y1="402.60" x2="147.01" y2="403.90" stroke="#222" stroke-width="0.8" />
<line x1="148.44" y1="402.60" x2="148.44" y2="403.90" stroke="#222" stroke-width="0.8" />
<line x1="149.64" y1="402.60" x2="149.64" y2="403.90" stroke="#222" stroke-width="0.8" />
<line x1="150.68" y1="402.60" x2="150.68" y2="403.90" stroke="#222" stroke-width="0.8" />
<line x1="151.60" y1="402.60" x2="151.60" y2="403.90" stroke="#222" stroke-width="0.8" />
<line x1="152.43" y1="402.60" x2="152.43" y2="405.00" stroke="#222" stroke-width="0.8" />
<line x1="157.84" y1="402.60" x2="157.84" y2="403.90" stroke="#222" stroke-width="0.8" />
<line x1="161.00" y1="402.60" x2="161.00" y2="403.90" stroke="#222" stroke-width="0.8" />
<line x1="163.25" y1="402.60" x2="163.25" y2="403.90" stroke="#222" stroke-width="0.8" />
<line x1="164.99" y1="402.60" x2="164.99" y2="403.90" stroke="#222" stroke-width="0.8" />
<line x1="166.41" y1="402.60" x2="166.41" y2="403.90" stroke="#222" stroke-width="0.8" />
<line x1="167.62" y1="402.60" x2="167.62" y2="403.90" stroke="#222" stroke-width="0.8" />
<line x1="168.66" y1="402.60" x2="168.66" y2="403.90" stroke="#222" stroke-width="0.8" />
<line x1="169.58" y1="402.60" x2="169.58" y2="403.90" stroke="#222" stroke-width="0.8" />
<line x1="170.40" y1="402.60" x2="170.40" y2="405.00" stroke="#222" stroke-width="0.8" />
<rect x="98.50" y="304.10" width="71.90" height="98.50" fill="none" stroke="#444" stroke-width="1.0"/>
<line x1="98.40" y1="402.60" x2="170.80" y2="402.60" stroke="#111" stroke-width="1.4" />
<line x1="98.50" y1="304.10" x2="98.50" y2="402.60" stroke="#333" stroke-width="1.1" />
<text x="94.30" y="412.10" font-size="6.3" fill="#333" stroke="#333" stroke-width="0.12">10<tspan dy="-3.1" font-size="5.4">0</tspan></text>
<text x="112.27" y="412.10" font-size="6.3" fill="#333" stroke="#333" stroke-width="0.12">10<tspan dy="-3.1" font-size="5.4">1</tspan></text>
<text x="130.25" y="412.10" font-size="6.3" fill="#333" stroke="#333" stroke-width="0.12">10<tspan dy="-3.1" font-size="5.4">2</tspan></text>
<text x="148.23" y="412.10" font-size="6.3" fill="#333" stroke="#333" stroke-width="0.12">10<tspan dy="-3.1" font-size="5.4">3</tspan></text>
<text x="166.20" y="412.10" font-size="6.3" fill="#333" stroke="#333" stroke-width="0.12">10<tspan dy="-3.1" font-size="5.4">4</tspan></text>
<polygon points="189.50,402.30 189.80,390.00 191.00,370.00 193.30,352.00 194.00,343.40 195.50,332.10 197.40,317.00 199.50,310.00 200.60,307.00 201.40,304.60 202.00,309.00 202.30,313.30 203.40,332.10 203.80,352.00 204.50,365.00 206.50,380.80 210.40,396.00 212.00,402.30" fill="#d5d5d5" stroke="#444" stroke-width="0.7" stroke-linejoin="round" />
<polyline points="189.50,402.30 192.60,399.50 197.00,396.00 200.00,391.00 202.00,380.00 202.50,374.20 203.20,360.00 203.60,342.60 204.20,325.00 204.80,318.00 206.00,309.50 207.50,313.00 208.50,311.00 210.20,311.80 210.90,320.80 212.10,328.30 213.60,335.80 214.30,343.40 215.10,352.00 216.50,357.70 218.00,365.40 221.20,380.80 223.50,393.00 225.80,397.00 235.00,399.50 245.00,400.50 258.00,401.00 259.40,402.30" fill="none" stroke="#222" stroke-width="1.0" stroke-linejoin="round" />
<line x1="187.50" y1="307.95" x2="189.00" y2="307.95" stroke="#222" stroke-width="0.9" />
<line x1="187.50" y1="311.40" x2="189.00" y2="311.40" stroke="#222" stroke-width="0.9" />
<line x1="187.50" y1="314.85" x2="189.00" y2="314.85" stroke="#222" stroke-width="0.9" />
<line x1="186.40" y1="318.30" x2="189.00" y2="318.30" stroke="#222" stroke-width="0.9" />
<line x1="187.50" y1="321.75" x2="189.00" y2="321.75" stroke="#222" stroke-width="0.9" />
<line x1="187.50" y1="325.20" x2="189.00" y2="325.20" stroke="#222" stroke-width="0.9" />
<line x1="187.50" y1="328.65" x2="189.00" y2="328.65" stroke="#222" stroke-width="0.9" />
<line x1="187.50" y1="332.10" x2="189.00" y2="332.10" stroke="#222" stroke-width="0.9" />
<line x1="186.40" y1="335.55" x2="189.00" y2="335.55" stroke="#222" stroke-width="0.9" />
<line x1="187.50" y1="339.00" x2="189.00" y2="339.00" stroke="#222" stroke-width="0.9" />
<line x1="187.50" y1="342.45" x2="189.00" y2="342.45" stroke="#222" stroke-width="0.9" />
<line x1="187.50" y1="345.90" x2="189.00" y2="345.90" stroke="#222" stroke-width="0.9" />
<line x1="187.50" y1="349.35" x2="189.00" y2="349.35" stroke="#222" stroke-width="0.9" />
<line x1="186.40" y1="352.80" x2="189.00" y2="352.80" stroke="#222" stroke-width="0.9" />
<line x1="187.50" y1="356.25" x2="189.00" y2="356.25" stroke="#222" stroke-width="0.9" />
<line x1="187.50" y1="359.70" x2="189.00" y2="359.70" stroke="#222" stroke-width="0.9" />
<line x1="187.50" y1="363.15" x2="189.00" y2="363.15" stroke="#222" stroke-width="0.9" />
<line x1="187.50" y1="366.60" x2="189.00" y2="366.60" stroke="#222" stroke-width="0.9" />
<line x1="186.40" y1="370.05" x2="189.00" y2="370.05" stroke="#222" stroke-width="0.9" />
<line x1="187.50" y1="373.50" x2="189.00" y2="373.50" stroke="#222" stroke-width="0.9" />
<line x1="187.50" y1="376.95" x2="189.00" y2="376.95" stroke="#222" stroke-width="0.9" />
<line x1="187.50" y1="380.40" x2="189.00" y2="380.40" stroke="#222" stroke-width="0.9" />
<line x1="187.50" y1="383.85" x2="189.00" y2="383.85" stroke="#222" stroke-width="0.9" />
<line x1="186.40" y1="387.30" x2="189.00" y2="387.30" stroke="#222" stroke-width="0.9" />
<line x1="187.50" y1="390.75" x2="189.00" y2="390.75" stroke="#222" stroke-width="0.9" />
<line x1="187.50" y1="394.20" x2="189.00" y2="394.20" stroke="#222" stroke-width="0.9" />
<line x1="187.50" y1="397.65" x2="189.00" y2="397.65" stroke="#222" stroke-width="0.9" />
<line x1="187.50" y1="401.10" x2="189.00" y2="401.10" stroke="#222" stroke-width="0.9" />
<line x1="189.00" y1="402.40" x2="189.00" y2="404.80" stroke="#222" stroke-width="0.8" />
<line x1="194.30" y1="402.40" x2="194.30" y2="403.70" stroke="#222" stroke-width="0.8" />
<line x1="197.40" y1="402.40" x2="197.40" y2="403.70" stroke="#222" stroke-width="0.8" />
<line x1="199.60" y1="402.40" x2="199.60" y2="403.70" stroke="#222" stroke-width="0.8" />
<line x1="201.30" y1="402.40" x2="201.30" y2="403.70" stroke="#222" stroke-width="0.8" />
<line x1="202.70" y1="402.40" x2="202.70" y2="403.70" stroke="#222" stroke-width="0.8" />
<line x1="203.87" y1="402.40" x2="203.87" y2="403.70" stroke="#222" stroke-width="0.8" />
<line x1="204.89" y1="402.40" x2="204.89" y2="403.70" stroke="#222" stroke-width="0.8" />
<line x1="205.79" y1="402.40" x2="205.79" y2="403.70" stroke="#222" stroke-width="0.8" />
<line x1="206.60" y1="402.40" x2="206.60" y2="404.80" stroke="#222" stroke-width="0.8" />
<line x1="211.90" y1="402.40" x2="211.90" y2="403.70" stroke="#222" stroke-width="0.8" />
<line x1="215.00" y1="402.40" x2="215.00" y2="403.70" stroke="#222" stroke-width="0.8" />
<line x1="217.20" y1="402.40" x2="217.20" y2="403.70" stroke="#222" stroke-width="0.8" />
<line x1="218.90" y1="402.40" x2="218.90" y2="403.70" stroke="#222" stroke-width="0.8" />
<line x1="220.30" y1="402.40" x2="220.30" y2="403.70" stroke="#222" stroke-width="0.8" />
<line x1="221.47" y1="402.40" x2="221.47" y2="403.70" stroke="#222" stroke-width="0.8" />
<line x1="222.49" y1="402.40" x2="222.49" y2="403.70" stroke="#222" stroke-width="0.8" />
<line x1="223.39" y1="402.40" x2="223.39" y2="403.70" stroke="#222" stroke-width="0.8" />
<line x1="224.20" y1="402.40" x2="224.20" y2="404.80" stroke="#222" stroke-width="0.8" />
<line x1="229.50" y1="402.40" x2="229.50" y2="403.70" stroke="#222" stroke-width="0.8" />
<line x1="232.60" y1="402.40" x2="232.60" y2="403.70" stroke="#222" stroke-width="0.8" />
<line x1="234.80" y1="402.40" x2="234.80" y2="403.70" stroke="#222" stroke-width="0.8" />
<line x1="236.50" y1="402.40" x2="236.50" y2="403.70" stroke="#222" stroke-width="0.8" />
<line x1="237.90" y1="402.40" x2="237.90" y2="403.70" stroke="#222" stroke-width="0.8" />
<line x1="239.07" y1="402.40" x2="239.07" y2="403.70" stroke="#222" stroke-width="0.8" />
<line x1="240.09" y1="402.40" x2="240.09" y2="403.70" stroke="#222" stroke-width="0.8" />
<line x1="240.99" y1="402.40" x2="240.99" y2="403.70" stroke="#222" stroke-width="0.8" />
<line x1="241.80" y1="402.40" x2="241.80" y2="404.80" stroke="#222" stroke-width="0.8" />
<line x1="247.10" y1="402.40" x2="247.10" y2="403.70" stroke="#222" stroke-width="0.8" />
<line x1="250.20" y1="402.40" x2="250.20" y2="403.70" stroke="#222" stroke-width="0.8" />
<line x1="252.40" y1="402.40" x2="252.40" y2="403.70" stroke="#222" stroke-width="0.8" />
<line x1="254.10" y1="402.40" x2="254.10" y2="403.70" stroke="#222" stroke-width="0.8" />
<line x1="255.50" y1="402.40" x2="255.50" y2="403.70" stroke="#222" stroke-width="0.8" />
<line x1="256.67" y1="402.40" x2="256.67" y2="403.70" stroke="#222" stroke-width="0.8" />
<line x1="257.69" y1="402.40" x2="257.69" y2="403.70" stroke="#222" stroke-width="0.8" />
<line x1="258.59" y1="402.40" x2="258.59" y2="403.70" stroke="#222" stroke-width="0.8" />
<line x1="259.40" y1="402.40" x2="259.40" y2="404.80" stroke="#222" stroke-width="0.8" />
<rect x="189.00" y="304.60" width="70.40" height="97.80" fill="none" stroke="#000" stroke-width="1.6"/>
<text x="184.80" y="411.90" font-size="6.3" fill="#333" stroke="#333" stroke-width="0.12">10<tspan dy="-3.1" font-size="5.4">0</tspan></text>
<text x="202.40" y="411.90" font-size="6.3" fill="#333" stroke="#333" stroke-width="0.12">10<tspan dy="-3.1" font-size="5.4">1</tspan></text>
<text x="220.00" y="411.90" font-size="6.3" fill="#333" stroke="#333" stroke-width="0.12">10<tspan dy="-3.1" font-size="5.4">2</tspan></text>
<text x="237.60" y="411.90" font-size="6.3" fill="#333" stroke="#333" stroke-width="0.12">10<tspan dy="-3.1" font-size="5.4">3</tspan></text>
<text x="255.20" y="411.90" font-size="6.3" fill="#333" stroke="#333" stroke-width="0.12">10<tspan dy="-3.1" font-size="5.4">4</tspan></text>
<line x1="9.80" y1="421.40" x2="255.40" y2="421.40" stroke="#000" stroke-width="1.3" />
<polygon points="253.90,418.20 260.40,421.40 253.90,424.60" fill="#000" stroke="none" stroke-width="1" stroke-linejoin="round" />
<text x="135.20" y="439.60" font-size="12" font-weight="bold" text-anchor="middle" fill="#000"  >CCR10-PE</text>
<line x1="338.90" y1="43.50" x2="338.90" y2="168.10" stroke="#555" stroke-width="1.1" />
<line x1="338.90" y1="168.10" x2="503.90" y2="168.10" stroke="#555" stroke-width="1.1" />
<line x1="337.30" y1="168.10" x2="338.90" y2="168.10" stroke="#555" stroke-width="1" />
<text x="334.40" y="176.50" font-size="11.5" font-weight="bold" text-anchor="end" fill="#000"  >0</text>
<line x1="337.30" y1="154.43" x2="338.90" y2="154.43" stroke="#555" stroke-width="1" />
<text x="334.40" y="162.83" font-size="11.5" font-weight="bold" text-anchor="end" fill="#000"  >500</text>
<line x1="337.30" y1="140.76" x2="338.90" y2="140.76" stroke="#555" stroke-width="1" />
<text x="334.40" y="149.16" font-size="11.5" font-weight="bold" text-anchor="end" fill="#000"  >1000</text>
<line x1="337.30" y1="127.09" x2="338.90" y2="127.09" stroke="#555" stroke-width="1" />
<text x="334.40" y="135.49" font-size="11.5" font-weight="bold" text-anchor="end" fill="#000"  >1500</text>
<line x1="337.30" y1="113.42" x2="338.90" y2="113.42" stroke="#555" stroke-width="1" />
<text x="334.40" y="121.82" font-size="11.5" font-weight="bold" text-anchor="end" fill="#000"  >2000</text>
<line x1="337.30" y1="99.75" x2="338.90" y2="99.75" stroke="#555" stroke-width="1" />
<text x="334.40" y="108.15" font-size="11.5" font-weight="bold" text-anchor="end" fill="#000"  >2500</text>
<line x1="337.30" y1="86.08" x2="338.90" y2="86.08" stroke="#555" stroke-width="1" />
<text x="334.40" y="94.48" font-size="11.5" font-weight="bold" text-anchor="end" fill="#000"  >3000</text>
<line x1="337.30" y1="72.41" x2="338.90" y2="72.41" stroke="#555" stroke-width="1" />
<text x="334.40" y="80.81" font-size="11.5" font-weight="bold" text-anchor="end" fill="#000"  >3500</text>
<line x1="337.30" y1="58.74" x2="338.90" y2="58.74" stroke="#555" stroke-width="1" />
<text x="334.40" y="67.14" font-size="11.5" font-weight="bold" text-anchor="end" fill="#000"  >4000</text>
<line x1="337.30" y1="45.07" x2="338.90" y2="45.07" stroke="#555" stroke-width="1" />
<text x="334.40" y="53.47" font-size="11.5" font-weight="bold" text-anchor="end" fill="#000"  >4500</text>
<line x1="394.10" y1="168.10" x2="394.10" y2="170.10" stroke="#555" stroke-width="1" />
<line x1="449.00" y1="168.10" x2="449.00" y2="170.10" stroke="#555" stroke-width="1" />
<line x1="503.70" y1="168.10" x2="503.70" y2="170.10" stroke="#555" stroke-width="1" />
<text x="342.00" y="183.30" font-size="11.5" font-weight="bold" text-anchor="middle" fill="#000"  >0</text>
<text x="394.40" y="183.30" font-size="11.5" font-weight="bold" text-anchor="middle" fill="#000"  >10</text>
<text x="450.80" y="183.30" font-size="11.5" font-weight="bold" text-anchor="middle" fill="#000"  >100</text>
<text x="506.50" y="183.30" font-size="11.5" font-weight="bold" text-anchor="middle" fill="#000"  >1000</text>
<text x="427.20" y="198.40" font-size="12" font-weight="bold" text-anchor="middle" fill="#000"  >CCL20/MIP-3<tspan font-family="Liberation Serif" font-weight="normal" font-size="14" stroke-width="0.2">&#945;</tspan> (ng/ml)</text>
<text transform="translate(298.9,108.9) rotate(-90) scale(1,0.86)" x="0" y="0" font-size="12.2" font-weight="bold" text-anchor="middle" stroke="#000" stroke-width="0.0">migrating cell number</text>
<polyline points="339.20,150.80 394.10,141.20 449.00,116.10 503.70,57.20" fill="none" stroke="#1a1a1a" stroke-width="1.1" stroke-linejoin="round" />
<polyline points="339.20,160.40 394.10,165.30 449.00,162.30 503.70,156.00" fill="none" stroke="#1a1a1a" stroke-width="1.1" stroke-linejoin="round" />
<line x1="339.20" y1="150.80" x2="339.20" y2="140.40" stroke="#000" stroke-width="1" />
<line x1="337.40" y1="140.40" x2="341.00" y2="140.40" stroke="#000" stroke-width="1" />
<line x1="394.10" y1="141.20" x2="394.10" y2="136.10" stroke="#000" stroke-width="1" />
<line x1="392.30" y1="136.10" x2="395.90" y2="136.10" stroke="#000" stroke-width="1" />
<line x1="449.00" y1="116.10" x2="449.00" y2="110.00" stroke="#000" stroke-width="1" />
<line x1="447.20" y1="110.00" x2="450.80" y2="110.00" stroke="#000" stroke-width="1" />
<line x1="503.70" y1="57.20" x2="503.70" y2="36.50" stroke="#000" stroke-width="1" />
<line x1="501.90" y1="36.50" x2="505.50" y2="36.50" stroke="#000" stroke-width="1" />
<line x1="339.20" y1="160.40" x2="339.20" y2="155.80" stroke="#000" stroke-width="1" />
<line x1="337.40" y1="155.80" x2="341.00" y2="155.80" stroke="#000" stroke-width="1" />
<line x1="394.10" y1="165.30" x2="394.10" y2="154.20" stroke="#000" stroke-width="1" />
<line x1="392.30" y1="154.20" x2="395.90" y2="154.20" stroke="#000" stroke-width="1" />
<line x1="449.00" y1="162.30" x2="449.00" y2="154.90" stroke="#000" stroke-width="1" />
<line x1="447.20" y1="154.90" x2="450.80" y2="154.90" stroke="#000" stroke-width="1" />
<line x1="503.70" y1="156.00" x2="503.70" y2="150.50" stroke="#000" stroke-width="1" />
<line x1="501.90" y1="150.50" x2="505.50" y2="150.50" stroke="#000" stroke-width="1" />
<rect x="336.90" y="148.50" width="4.60" height="4.60" fill="#000" stroke="#000" stroke-width="1"/>
<rect x="391.80" y="138.90" width="4.60" height="4.60" fill="#000" stroke="#000" stroke-width="1"/>
<rect x="446.70" y="113.80" width="4.60" height="4.60" fill="#000" stroke="#000" stroke-width="1"/>
<rect x="501.40" y="54.90" width="4.60" height="4.60" fill="#000" stroke="#000" stroke-width="1"/>
<rect x="336.90" y="158.10" width="4.60" height="4.60" fill="#fff" stroke="#000" stroke-width="1"/>
<rect x="391.80" y="163.00" width="4.60" height="4.60" fill="#fff" stroke="#000" stroke-width="1"/>
<rect x="446.70" y="160.00" width="4.60" height="4.60" fill="#fff" stroke="#000" stroke-width="1"/>
<rect x="501.40" y="153.70" width="4.60" height="4.60" fill="#fff" stroke="#000" stroke-width="1"/>
<rect x="365.20" y="4.40" width="89.20" height="32.40" fill="none" stroke="#222" stroke-width="1"/>
<line x1="369.60" y1="13.80" x2="395.60" y2="13.80" stroke="#000" stroke-width="1" />
<rect x="379.20" y="10.30" width="7.00" height="7.00" fill="#fff" stroke="#000" stroke-width="1"/>
<line x1="369.60" y1="28.80" x2="395.60" y2="28.80" stroke="#000" stroke-width="1" />
<rect x="379.20" y="25.30" width="7.00" height="7.00" fill="#000" stroke="#000" stroke-width="1"/>
<text x="404.50" y="17.80" font-size="11.8" font-weight="bold" text-anchor="start" fill="#000"  >fresh</text>
<text x="404.50" y="32.40" font-size="11.8" font-weight="bold" text-anchor="start" fill="#000"  >72h IL-3</text>
<line x1="338.60" y1="293.40" x2="338.60" y2="417.30" stroke="#555" stroke-width="1.1" />
<line x1="338.60" y1="417.30" x2="504.30" y2="417.30" stroke="#555" stroke-width="1.1" />
<line x1="337.00" y1="417.30" x2="338.60" y2="417.30" stroke="#555" stroke-width="1" />
<text x="335.00" y="425.60" font-size="11.5" font-weight="bold" text-anchor="end" fill="#000"  >0</text>
<line x1="337.00" y1="399.60" x2="338.60" y2="399.60" stroke="#555" stroke-width="1" />
<text x="335.00" y="407.80" font-size="11.5" font-weight="bold" text-anchor="end" fill="#000"  >500</text>
<line x1="337.00" y1="381.90" x2="338.60" y2="381.90" stroke="#555" stroke-width="1" />
<text x="335.00" y="390.00" font-size="11.5" font-weight="bold" text-anchor="end" fill="#000"  >1000</text>
<line x1="337.00" y1="364.20" x2="338.60" y2="364.20" stroke="#555" stroke-width="1" />
<text x="335.00" y="372.20" font-size="11.5" font-weight="bold" text-anchor="end" fill="#000"  >1500</text>
<line x1="337.00" y1="346.50" x2="338.60" y2="346.50" stroke="#555" stroke-width="1" />
<text x="335.00" y="354.40" font-size="11.5" font-weight="bold" text-anchor="end" fill="#000"  >2000</text>
<line x1="337.00" y1="328.80" x2="338.60" y2="328.80" stroke="#555" stroke-width="1" />
<text x="335.00" y="336.60" font-size="11.5" font-weight="bold" text-anchor="end" fill="#000"  >2500</text>
<line x1="337.00" y1="311.10" x2="338.60" y2="311.10" stroke="#555" stroke-width="1" />
<text x="335.00" y="318.80" font-size="11.5" font-weight="bold" text-anchor="end" fill="#000"  >3000</text>
<line x1="337.00" y1="293.40" x2="338.60" y2="293.40" stroke="#555" stroke-width="1" />
<text x="335.00" y="301.00" font-size="11.5" font-weight="bold" text-anchor="end" fill="#000"  >3500</text>
<line x1="380.10" y1="417.30" x2="380.10" y2="419.30" stroke="#555" stroke-width="1" />
<line x1="421.60" y1="417.30" x2="421.60" y2="419.30" stroke="#555" stroke-width="1" />
<line x1="463.10" y1="417.30" x2="463.10" y2="419.30" stroke="#555" stroke-width="1" />
<line x1="503.90" y1="417.30" x2="503.90" y2="419.30" stroke="#555" stroke-width="1" />
<text x="341.30" y="432.40" font-size="11.5" font-weight="bold" text-anchor="middle" fill="#000"  >0</text>
<text x="386.80" y="432.40" font-size="11.5" font-weight="bold" text-anchor="middle" fill="#000"  >250</text>
<text x="421.60" y="432.40" font-size="11.5" font-weight="bold" text-anchor="middle" fill="#000"  >500</text>
<text x="465.10" y="432.40" font-size="11.5" font-weight="bold" text-anchor="middle" fill="#000"  >1000</text>
<text x="506.70" y="432.40" font-size="11.5" font-weight="bold" text-anchor="middle" fill="#000"  >2000</text>
<text x="426.70" y="452.50" font-size="12" font-weight="bold" text-anchor="middle" fill="#000"  >chemokines (ng/ml)</text>
<text transform="translate(298.9,356) rotate(-90) scale(1,0.92)" x="0" y="0" font-size="12" font-weight="bold" text-anchor="middle" stroke="#000" stroke-width="0.0">migrating cell number</text>
<polyline points="338.90,402.80 380.10,400.80 421.60,397.20 463.10,311.90 503.90,315.10" fill="none" stroke="#1a1a1a" stroke-width="1.1" stroke-linejoin="round" />
<polyline points="338.90,402.80 380.10,397.90 421.60,391.40 463.10,379.40 503.90,341.30" fill="none" stroke="#1a1a1a" stroke-width="1.1" stroke-linejoin="round" />
<polyline points="463.10,411.50 503.90,412.80" fill="none" stroke="#1a1a1a" stroke-width="1.1" stroke-linejoin="round" />
<line x1="338.90" y1="402.80" x2="338.90" y2="389.60" stroke="#000" stroke-width="1" />
<line x1="337.10" y1="389.60" x2="340.70" y2="389.60" stroke="#000" stroke-width="1" />
<line x1="380.10" y1="397.90" x2="380.10" y2="390.20" stroke="#000" stroke-width="1" />
<line x1="378.30" y1="390.20" x2="381.90" y2="390.20" stroke="#000" stroke-width="1" />
<line x1="421.60" y1="391.40" x2="421.60" y2="386.70" stroke="#000" stroke-width="1" />
<line x1="419.80" y1="386.70" x2="423.40" y2="386.70" stroke="#000" stroke-width="1" />
<line x1="463.10" y1="379.40" x2="463.10" y2="365.90" stroke="#000" stroke-width="1" />
<line x1="461.30" y1="365.90" x2="464.90" y2="365.90" stroke="#000" stroke-width="1" />
<line x1="503.90" y1="341.30" x2="503.90" y2="337.30" stroke="#000" stroke-width="1" />
<line x1="502.10" y1="337.30" x2="505.70" y2="337.30" stroke="#000" stroke-width="1" />
<line x1="338.90" y1="402.80" x2="338.90" y2="395.00" stroke="#000" stroke-width="1" />
<line x1="337.10" y1="395.00" x2="340.70" y2="395.00" stroke="#000" stroke-width="1" />
<line x1="380.10" y1="400.80" x2="380.10" y2="393.00" stroke="#000" stroke-width="1" />
<line x1="378.30" y1="393.00" x2="381.90" y2="393.00" stroke="#000" stroke-width="1" />
<line x1="463.10" y1="311.90" x2="463.10" y2="304.70" stroke="#000" stroke-width="1" />
<line x1="460.85" y1="304.70" x2="465.35" y2="304.70" stroke="#000" stroke-width="1" />
<line x1="503.90" y1="315.10" x2="503.90" y2="304.70" stroke="#000" stroke-width="1" />
<line x1="501.65" y1="304.70" x2="506.15" y2="304.70" stroke="#000" stroke-width="1" />
<line x1="463.10" y1="411.50" x2="463.10" y2="407.00" stroke="#000" stroke-width="1" />
<line x1="461.30" y1="407.00" x2="464.90" y2="407.00" stroke="#000" stroke-width="1" />
<line x1="503.90" y1="412.80" x2="503.90" y2="403.10" stroke="#000" stroke-width="1" />
<line x1="502.10" y1="403.10" x2="505.70" y2="403.10" stroke="#000" stroke-width="1" />
<line x1="503.90" y1="412.80" x2="503.90" y2="405.50" stroke="#000" stroke-width="1" />
<line x1="502.10" y1="405.50" x2="505.70" y2="405.50" stroke="#000" stroke-width="1" />
<rect x="336.50" y="400.40" width="4.80" height="4.80" fill="#000" stroke="#000" stroke-width="1"/>
<rect x="377.70" y="395.50" width="4.80" height="4.80" fill="#000" stroke="#000" stroke-width="1"/>
<rect x="419.20" y="389.00" width="4.80" height="4.80" fill="#000" stroke="#000" stroke-width="1"/>
<rect x="460.70" y="377.00" width="4.80" height="4.80" fill="#000" stroke="#000" stroke-width="1"/>
<rect x="501.50" y="338.90" width="4.80" height="4.80" fill="#000" stroke="#000" stroke-width="1"/>
<circle cx="338.90" cy="402.80" r="2.50" fill="#000" stroke="#000" stroke-width="1"/>
<circle cx="380.10" cy="400.80" r="2.50" fill="#000" stroke="#000" stroke-width="1"/>
<circle cx="421.60" cy="397.20" r="2.50" fill="#000" stroke="#000" stroke-width="1"/>
<circle cx="463.10" cy="311.90" r="2.50" fill="#000" stroke="#000" stroke-width="1"/>
<circle cx="503.90" cy="315.10" r="2.50" fill="#000" stroke="#000" stroke-width="1"/>
<rect x="460.90" y="409.30" width="4.40" height="4.40" fill="#fff" stroke="#000" stroke-width="1"/>
<circle cx="463.10" cy="411.50" r="2.10" fill="#fff" stroke="#000" stroke-width="1"/>
<rect x="501.70" y="410.60" width="4.40" height="4.40" fill="#fff" stroke="#000" stroke-width="1"/>
<circle cx="503.90" cy="412.80" r="2.10" fill="#fff" stroke="#000" stroke-width="1"/>
<rect x="348.80" y="227.60" width="138.40" height="58.00" fill="none" stroke="#222" stroke-width="1"/>
<line x1="436.80" y1="227.60" x2="436.80" y2="256.00" stroke="#222" stroke-width="1" />
<line x1="436.80" y1="260.30" x2="436.80" y2="285.40" stroke="#222" stroke-width="1" />
<line x1="354.20" y1="238.10" x2="380.10" y2="238.10" stroke="#000" stroke-width="1" />
<rect x="363.30" y="234.10" width="8.00" height="8.00" fill="#fff" stroke="#000" stroke-width="1"/>
<line x1="354.20" y1="252.70" x2="380.10" y2="252.70" stroke="#000" stroke-width="1" />
<rect x="363.30" y="248.70" width="8.00" height="8.00" fill="#000" stroke="#000" stroke-width="1"/>
<line x1="354.20" y1="265.30" x2="380.10" y2="265.30" stroke="#000" stroke-width="1" />
<circle cx="367.30" cy="265.30" r="4.40" fill="#fff" stroke="#000" stroke-width="1"/>
<line x1="354.20" y1="277.60" x2="380.10" y2="277.60" stroke="#000" stroke-width="1" />
<circle cx="367.30" cy="277.60" r="4.40" fill="#000" stroke="#000" stroke-width="1"/>
<text x="388.30" y="241.80" font-size="12" font-weight="bold" text-anchor="start" fill="#000"  >fresh</text>
<text x="388.30" y="256.30" font-size="12" font-weight="bold" text-anchor="start" fill="#000"  >72h IL-3</text>
<text x="388.30" y="269.20" font-size="12" font-weight="bold" text-anchor="start" fill="#000"  >fresh</text>
<text x="388.30" y="281.90" font-size="12" font-weight="bold" text-anchor="start" fill="#000"  >72h IL-3</text>
<text x="448.20" y="249.90" font-size="12" font-weight="bold" text-anchor="start" fill="#000"  >CCL27</text>
<text x="446.50" y="277.20" font-size="12" font-weight="bold" text-anchor="start" fill="#000"  >CCL28</text>
<line x1="73.70" y1="481.50" x2="73.70" y2="646.70" stroke="#222" stroke-width="1.3" />
<line x1="73.70" y1="643.70" x2="234.50" y2="643.70" stroke="#222" stroke-width="1.3" />
<line x1="70.50" y1="643.70" x2="73.70" y2="643.70" stroke="#222" stroke-width="1.3" />
<text x="61.30" y="651.85" font-size="13.5" font-weight="bold" text-anchor="end" fill="#000"  >0</text>
<line x1="70.50" y1="620.53" x2="73.70" y2="620.53" stroke="#222" stroke-width="1.3" />
<text x="61.30" y="628.29" font-size="13.5" font-weight="bold" text-anchor="end" fill="#000"  >10</text>
<line x1="70.50" y1="597.36" x2="73.70" y2="597.36" stroke="#222" stroke-width="1.3" />
<text x="61.30" y="604.73" font-size="13.5" font-weight="bold" text-anchor="end" fill="#000"  >20</text>
<line x1="70.50" y1="574.19" x2="73.70" y2="574.19" stroke="#222" stroke-width="1.3" />
<text x="61.30" y="581.17" font-size="13.5" font-weight="bold" text-anchor="end" fill="#000"  >30</text>
<line x1="70.50" y1="551.01" x2="73.70" y2="551.01" stroke="#222" stroke-width="1.3" />
<text x="61.30" y="557.61" font-size="13.5" font-weight="bold" text-anchor="end" fill="#000"  >40</text>
<line x1="70.50" y1="527.84" x2="73.70" y2="527.84" stroke="#222" stroke-width="1.3" />
<text x="61.30" y="534.05" font-size="13.5" font-weight="bold" text-anchor="end" fill="#000"  >50</text>
<line x1="70.50" y1="504.67" x2="73.70" y2="504.67" stroke="#222" stroke-width="1.3" />
<text x="61.30" y="510.49" font-size="13.5" font-weight="bold" text-anchor="end" fill="#000"  >60</text>
<line x1="70.50" y1="481.50" x2="73.70" y2="481.50" stroke="#222" stroke-width="1.3" />
<text x="61.30" y="486.93" font-size="13.5" font-weight="bold" text-anchor="end" fill="#000"  >70</text>
<line x1="124.00" y1="643.70" x2="124.00" y2="646.70" stroke="#222" stroke-width="1.3" />
<line x1="157.40" y1="643.70" x2="157.40" y2="646.70" stroke="#222" stroke-width="1.3" />
<line x1="191.60" y1="643.70" x2="191.60" y2="646.70" stroke="#222" stroke-width="1.3" />
<line x1="225.20" y1="643.70" x2="225.20" y2="646.70" stroke="#222" stroke-width="1.3" />
<text x="87.70" y="664.20" font-size="13.5" font-weight="bold" text-anchor="middle" fill="#000"  >0h</text>
<text x="123.00" y="664.20" font-size="13.5" font-weight="bold" text-anchor="middle" fill="#000"  >16h</text>
<text x="157.20" y="664.20" font-size="13.5" font-weight="bold" text-anchor="middle" fill="#000"  >24h</text>
<text x="191.70" y="664.20" font-size="13.5" font-weight="bold" text-anchor="middle" fill="#000"  >48h</text>
<text x="224.60" y="664.20" font-size="13.5" font-weight="bold" text-anchor="middle" fill="#000"  >96h</text>
<text transform="translate(26.6,563.3) rotate(-90)" x="0" y="0" font-size="14" font-weight="bold" text-anchor="middle" stroke="#000" stroke-width="0.0">% positive cells</text>
<polyline points="90.80,643.80 124.00,617.70 157.40,588.30 191.60,541.20 225.20,509.20" fill="none" stroke="#000" stroke-width="1.3" stroke-linejoin="round" />
<polyline points="90.80,643.80 124.00,608.50 157.40,592.90 191.60,566.80 225.20,568.90" fill="none" stroke="#000" stroke-width="1.3" stroke-linejoin="round" />
<line x1="157.40" y1="588.30" x2="157.40" y2="585.00" stroke="#000" stroke-width="1.2" />
<line x1="154.60" y1="585.00" x2="160.20" y2="585.00" stroke="#000" stroke-width="1.2" />
<line x1="225.20" y1="509.20" x2="225.20" y2="500.20" stroke="#000" stroke-width="1.2" />
<line x1="222.40" y1="500.20" x2="228.00" y2="500.20" stroke="#000" stroke-width="1.2" />
<line x1="157.40" y1="592.90" x2="157.40" y2="585.00" stroke="#000" stroke-width="1.2" />
<line x1="154.60" y1="585.00" x2="160.20" y2="585.00" stroke="#000" stroke-width="1.2" />
<line x1="191.60" y1="566.80" x2="191.60" y2="560.40" stroke="#000" stroke-width="1.2" />
<line x1="188.80" y1="560.40" x2="194.40" y2="560.40" stroke="#000" stroke-width="1.2" />
<line x1="225.20" y1="568.90" x2="225.20" y2="557.70" stroke="#000" stroke-width="1.2" />
<line x1="222.40" y1="557.70" x2="228.00" y2="557.70" stroke="#000" stroke-width="1.2" />
<rect x="87.20" y="640.20" width="7.20" height="7.20" fill="#fff" stroke="#000" stroke-width="1.2"/>
<rect x="120.40" y="604.90" width="7.20" height="7.20" fill="#fff" stroke="#000" stroke-width="1.2"/>
<rect x="153.80" y="589.30" width="7.20" height="7.20" fill="#fff" stroke="#000" stroke-width="1.2"/>
<rect x="188.00" y="563.20" width="7.20" height="7.20" fill="#fff" stroke="#000" stroke-width="1.2"/>
<rect x="221.60" y="565.30" width="7.20" height="7.20" fill="#fff" stroke="#000" stroke-width="1.2"/>
<rect x="87.20" y="640.20" width="7.20" height="7.20" fill="#000" stroke="#000" stroke-width="1.2"/>
<rect x="120.40" y="614.10" width="7.20" height="7.20" fill="#000" stroke="#000" stroke-width="1.2"/>
<rect x="153.80" y="584.70" width="7.20" height="7.20" fill="#000" stroke="#000" stroke-width="1.2"/>
<rect x="188.00" y="537.60" width="7.20" height="7.20" fill="#000" stroke="#000" stroke-width="1.2"/>
<rect x="221.60" y="505.60" width="7.20" height="7.20" fill="#000" stroke="#000" stroke-width="1.2"/>
<rect x="91.40" y="476.80" width="89.20" height="33.60" fill="none" stroke="#222" stroke-width="1.1"/>
<line x1="96.50" y1="486.90" x2="121.50" y2="486.90" stroke="#000" stroke-width="1.2" />
<rect x="105.30" y="482.90" width="8.00" height="8.00" fill="#fff" stroke="#000" stroke-width="1.2"/>
<line x1="96.50" y1="501.20" x2="121.50" y2="501.20" stroke="#000" stroke-width="1.2" />
<rect x="105.30" y="497.20" width="8.00" height="8.00" fill="#000" stroke="#000" stroke-width="1.2"/>
<text x="128.60" y="490.80" font-size="12" font-weight="bold" text-anchor="start" fill="#000"  >CCR6</text>
<text x="128.60" y="505.60" font-size="12" font-weight="bold" text-anchor="start" fill="#000"  >CCR10</text>
<line x1="336.60" y1="480.60" x2="336.60" y2="645.50" stroke="#222" stroke-width="1.3" />
<line x1="336.60" y1="642.90" x2="504.70" y2="642.90" stroke="#222" stroke-width="1.3" />
<line x1="333.60" y1="642.90" x2="336.60" y2="642.90" stroke="#222" stroke-width="1.3" />
<text x="326.30" y="648.85" font-size="13.5" font-weight="bold" text-anchor="end" fill="#000"  >0</text>
<line x1="333.60" y1="615.85" x2="336.60" y2="615.85" stroke="#222" stroke-width="1.3" />
<text x="326.30" y="621.38" font-size="13.5" font-weight="bold" text-anchor="end" fill="#000"  >10</text>
<line x1="333.60" y1="588.80" x2="336.60" y2="588.80" stroke="#222" stroke-width="1.3" />
<text x="326.30" y="593.91" font-size="13.5" font-weight="bold" text-anchor="end" fill="#000"  >20</text>
<line x1="333.60" y1="561.75" x2="336.60" y2="561.75" stroke="#222" stroke-width="1.3" />
<text x="326.30" y="566.44" font-size="13.5" font-weight="bold" text-anchor="end" fill="#000"  >30</text>
<line x1="333.60" y1="534.70" x2="336.60" y2="534.70" stroke="#222" stroke-width="1.3" />
<text x="326.30" y="538.97" font-size="13.5" font-weight="bold" text-anchor="end" fill="#000"  >40</text>
<line x1="333.60" y1="507.65" x2="336.60" y2="507.65" stroke="#222" stroke-width="1.3" />
<text x="326.30" y="511.50" font-size="13.5" font-weight="bold" text-anchor="end" fill="#000"  >50</text>
<line x1="333.60" y1="480.60" x2="336.60" y2="480.60" stroke="#222" stroke-width="1.3" />
<text x="326.30" y="484.03" font-size="13.5" font-weight="bold" text-anchor="end" fill="#000"  >60</text>
<line x1="387.40" y1="642.90" x2="387.40" y2="645.90" stroke="#222" stroke-width="1.3" />
<line x1="421.10" y1="642.90" x2="421.10" y2="645.90" stroke="#222" stroke-width="1.3" />
<line x1="454.80" y1="642.90" x2="454.80" y2="645.90" stroke="#222" stroke-width="1.3" />
<line x1="488.10" y1="642.90" x2="488.10" y2="645.90" stroke="#222" stroke-width="1.3" />
<text x="353.10" y="660.40" font-size="13.8" font-weight="bold" text-anchor="middle" fill="#000"  >0h</text>
<text x="387.80" y="660.40" font-size="13.8" font-weight="bold" text-anchor="middle" fill="#000"  >16h</text>
<text x="421.70" y="660.40" font-size="13.8" font-weight="bold" text-anchor="middle" fill="#000"  >24h</text>
<text x="455.70" y="660.40" font-size="13.8" font-weight="bold" text-anchor="middle" fill="#000"  >48h</text>
<text x="490.30" y="660.40" font-size="13.8" font-weight="bold" text-anchor="middle" fill="#000"  >96h</text>
<text transform="translate(291.4,558.8) rotate(-90)" x="0" y="0" font-size="13.5" font-weight="bold" text-anchor="middle" stroke="#000" stroke-width="0.0">MFI</text>
<polyline points="353.60,643.10 387.40,561.30 421.10,510.20 454.80,530.20 488.10,525.80" fill="none" stroke="#000" stroke-width="1.3" stroke-linejoin="round" />
<polyline points="353.60,643.10 387.40,600.00 421.10,575.10 454.80,559.50 488.10,556.60" fill="none" stroke="#000" stroke-width="1.3" stroke-linejoin="round" />
<line x1="387.40" y1="561.30" x2="387.40" y2="545.40" stroke="#000" stroke-width="1.2" />
<line x1="384.60" y1="545.40" x2="390.20" y2="545.40" stroke="#000" stroke-width="1.2" />
<line x1="421.10" y1="510.20" x2="421.10" y2="491.40" stroke="#000" stroke-width="1.2" />
<line x1="418.30" y1="491.40" x2="423.90" y2="491.40" stroke="#000" stroke-width="1.2" />
<line x1="454.80" y1="530.20" x2="454.80" y2="516.10" stroke="#000" stroke-width="1.2" />
<line x1="452.00" y1="516.10" x2="457.60" y2="516.10" stroke="#000" stroke-width="1.2" />
<line x1="488.10" y1="525.80" x2="488.10" y2="518.40" stroke="#000" stroke-width="1.2" />
<line x1="485.30" y1="518.40" x2="490.90" y2="518.40" stroke="#000" stroke-width="1.2" />
<line x1="387.40" y1="600.00" x2="387.40" y2="589.60" stroke="#000" stroke-width="1.2" />
<line x1="384.60" y1="589.60" x2="390.20" y2="589.60" stroke="#000" stroke-width="1.2" />
<line x1="421.10" y1="575.10" x2="421.10" y2="556.60" stroke="#000" stroke-width="1.2" />
<line x1="418.30" y1="556.60" x2="423.90" y2="556.60" stroke="#000" stroke-width="1.2" />
<line x1="454.80" y1="559.50" x2="454.80" y2="551.60" stroke="#000" stroke-width="1.2" />
<line x1="452.00" y1="551.60" x2="457.60" y2="551.60" stroke="#000" stroke-width="1.2" />
<line x1="488.10" y1="556.60" x2="488.10" y2="535.50" stroke="#000" stroke-width="1.2" />
<line x1="485.30" y1="535.50" x2="490.90" y2="535.50" stroke="#000" stroke-width="1.2" />
<rect x="350.00" y="639.50" width="7.20" height="7.20" fill="#fff" stroke="#000" stroke-width="1.2"/>
<rect x="383.80" y="596.40" width="7.20" height="7.20" fill="#fff" stroke="#000" stroke-width="1.2"/>
<rect x="417.50" y="571.50" width="7.20" height="7.20" fill="#fff" stroke="#000" stroke-width="1.2"/>
<rect x="451.20" y="555.90" width="7.20" height="7.20" fill="#fff" stroke="#000" stroke-width="1.2"/>
<rect x="484.50" y="553.00" width="7.20" height="7.20" fill="#fff" stroke="#000" stroke-width="1.2"/>
<rect x="350.00" y="639.50" width="7.20" height="7.20" fill="#000" stroke="#000" stroke-width="1.2"/>
<rect x="383.80" y="557.70" width="7.20" height="7.20" fill="#000" stroke="#000" stroke-width="1.2"/>
<rect x="417.50" y="506.60" width="7.20" height="7.20" fill="#000" stroke="#000" stroke-width="1.2"/>
<rect x="451.20" y="526.60" width="7.20" height="7.20" fill="#000" stroke="#000" stroke-width="1.2"/>
<rect x="484.50" y="522.20" width="7.20" height="7.20" fill="#000" stroke="#000" stroke-width="1.2"/>
</svg>
</body></html>
